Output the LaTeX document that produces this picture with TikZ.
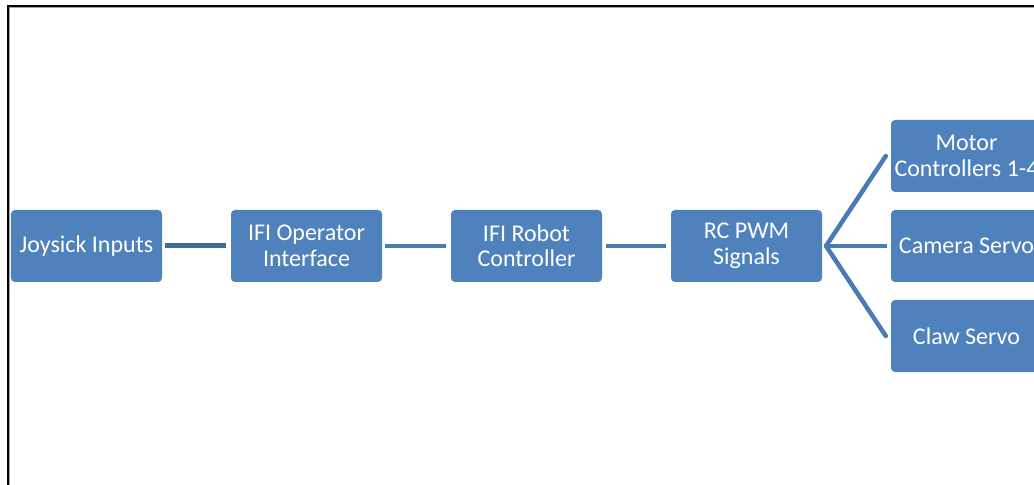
\documentclass[tikz,border=0pt]{standalone}
\usepackage{fontspec}
\setmainfont{Carlito}
\definecolor{boxblue}{HTML}{4F81BD}
\definecolor{linkdark}{HTML}{3F6A9C}
\definecolor{linkblue}{HTML}{4A7AB4}
\begin{document}
\begin{tikzpicture}[x=1bp,y=-1bp,
  blk/.style={fill=boxblue, rounded corners=4bp, minimum width=151bp, minimum height=72bp,
    inner sep=0pt, text=white, align=center, font=\fontsize{24bp}{25.5bp}\selectfont},
  link/.style={draw=linkblue, line width=4.5bp},
  linkd/.style={draw=linkdark, line width=5bp}]
\useasboundingbox (0,0) rectangle (1034,485);
\clip (0,0) rectangle (1034,485);
\fill[white] (0,0) rectangle (1034,485);
\draw[gray!70, line width=1bp] (9.5,7.5) -- (1040,7.5);
\draw[gray!70, line width=1bp] (9.5,7.5) -- (9.5,490);
\draw[black, line width=2bp] (8,6) rectangle (1040,495);
\node[blk] (j) at (86.5,246) {Joysick Inputs};
\node[blk] (o) at (306.5,246) {IFI Operator\\Interface};
\node[blk] (r) at (526.5,246) {IFI Robot\\Controller};
\node[blk] (p) at (746.5,246) {RC PWM\\Signals};
\node[blk] (m) at (966.5,156) {Motor\\Controllers 1-4};
\node[blk] (c) at (966.5,246) {Camera Servo};
\node[blk] (w) at (966.5,336) {Claw Servo};
\draw[linkd, shorten <=3bp, shorten >=5bp] (j.east) -- (o.west);
\draw[link, shorten <=3bp, shorten >=5bp] (o.east) -- (r.west);
\draw[link, shorten <=4bp, shorten >=5bp] (r.east) -- (p.west);
\coordinate (fan) at (826,246);
\draw[link, line cap=round] (fan) -- ([xshift=-5bp]m.west);
\draw[link] (fan) -- ([xshift=-4bp]c.west);
\draw[link, line cap=round] (fan) -- ([xshift=-5bp]w.west);
\end{tikzpicture}
\end{document}
